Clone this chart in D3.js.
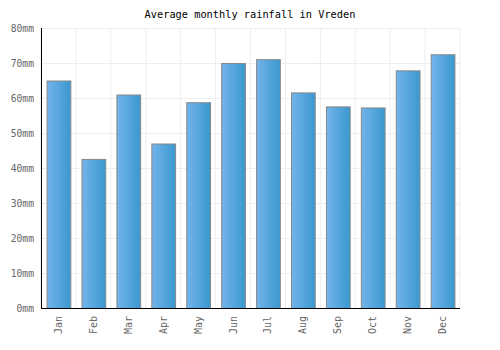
<!DOCTYPE html>
<html>
<head>
<meta charset="utf-8">
<script src="https://cdn.jsdelivr.net/npm/d3@7"></script>
<style>
  body { margin: 0; background: #fff; }
  text { font-family: 'DejaVu Sans Mono', monospace; }
</style>
</head>
<body>
<svg id="chart"></svg>
<script>
const months = ['Jan', 'Feb', 'Mar', 'Apr', 'May', 'Jun', 'Jul', 'Aug', 'Sep', 'Oct', 'Nov', 'Dec']
const rainfall = [65.0, 42.6, 61.0, 47.0, 58.8, 70.0, 71.1, 61.6, 57.6, 57.3, 67.9, 72.5]
const yTicks = [0, 10, 20, 30, 40, 50, 60, 70, 80]

const width = 500
const height = 350
const margin = { top: 28, left: 41, bottom: 42, right: 40 }
const bodyWidth = width - margin.left - margin.right
const bodyHeight = height - margin.top - margin.bottom

const svg = d3.select('#chart').attr('width', width).attr('height', height)

const defs = svg.append('defs')
const grad = defs.append('linearGradient').attr('id', 'barGrad')
  .attr('x1', '0%').attr('x2', '100%').attr('y1', '0%').attr('y2', '0%')
grad.append('stop').attr('offset', '0%').attr('stop-color', '#72b4ea')
grad.append('stop').attr('offset', '100%').attr('stop-color', '#3a98cf')

const xScale = d3.scaleBand().domain(months).range([0, bodyWidth]).paddingInner(0.32).paddingOuter(0.16)
const yScale = d3.scaleLinear().domain([0, 80]).range([bodyHeight, 0])

const body = svg.append('g').attr('transform', `translate(${margin.left},${margin.top})`)

// grid
const step = bodyWidth / months.length
body.append('g').selectAll('line').data(d3.range(months.length + 1)).enter()
  .append('line')
  .attr('x1', (i) => i * step).attr('x2', (i) => i * step)
  .attr('y1', 0).attr('y2', bodyHeight)
  .attr('stroke', '#eeeeee').attr('stroke-width', 1)
body.append('g').selectAll('line').data(yTicks).enter()
  .append('line')
  .attr('x1', 0).attr('x2', bodyWidth)
  .attr('y1', (d) => yScale(d) + 0.5).attr('y2', (d) => yScale(d) + 0.5)
  .attr('stroke', '#eeeeee').attr('stroke-width', 1)

// bars
body.append('g').selectAll('rect').data(rainfall).enter()
  .append('rect')
  .attr('x', (d, i) => xScale(months[i]) + 0.5)
  .attr('y', (d) => yScale(d) + 0.5)
  .attr('width', xScale.bandwidth())
  .attr('height', (d) => bodyHeight - yScale(d))
  .attr('fill', 'url(#barGrad)')
  .attr('stroke', '#888888')
  .attr('stroke-width', 1)

// axes
const axisY = d3.axisLeft(yScale).tickValues(yTicks).tickSize(0).tickFormat((d) => d + 'mm')
const gy = body.append('g').call(axisY)
gy.select('.domain').remove()
gy.selectAll('text').attr('fill', '#666').style('font-size', '9.7px').attr('x', -7)
body.append('line').attr('x1', 0.5).attr('x2', 0.5).attr('y1', 0).attr('y2', bodyHeight + 0.5)
  .attr('stroke', '#000')

const axisX = d3.axisBottom(xScale).tickSize(0)
const gx = body.append('g').attr('transform', `translate(0,${bodyHeight})`).call(axisX)
gx.select('.domain').remove()
gx.selectAll('text')
  .attr('fill', '#666').style('font-size', '10px')
  .attr('transform', 'rotate(-90)')
  .attr('text-anchor', 'end')
  .attr('x', -8).attr('y', 0).attr('dy', '0.35em')
body.append('line').attr('x1', 0).attr('x2', bodyWidth).attr('y1', bodyHeight + 0.5).attr('y2', bodyHeight + 0.5)
  .attr('stroke', '#000')

svg.append('text')
  .attr('x', 250).attr('y', 18)
  .attr('text-anchor', 'middle')
  .style('font-size', '10.3px')
  .attr('fill', '#000')
  .text('Average monthly rainfall in Vreden')
</script>
</body>
</html>
